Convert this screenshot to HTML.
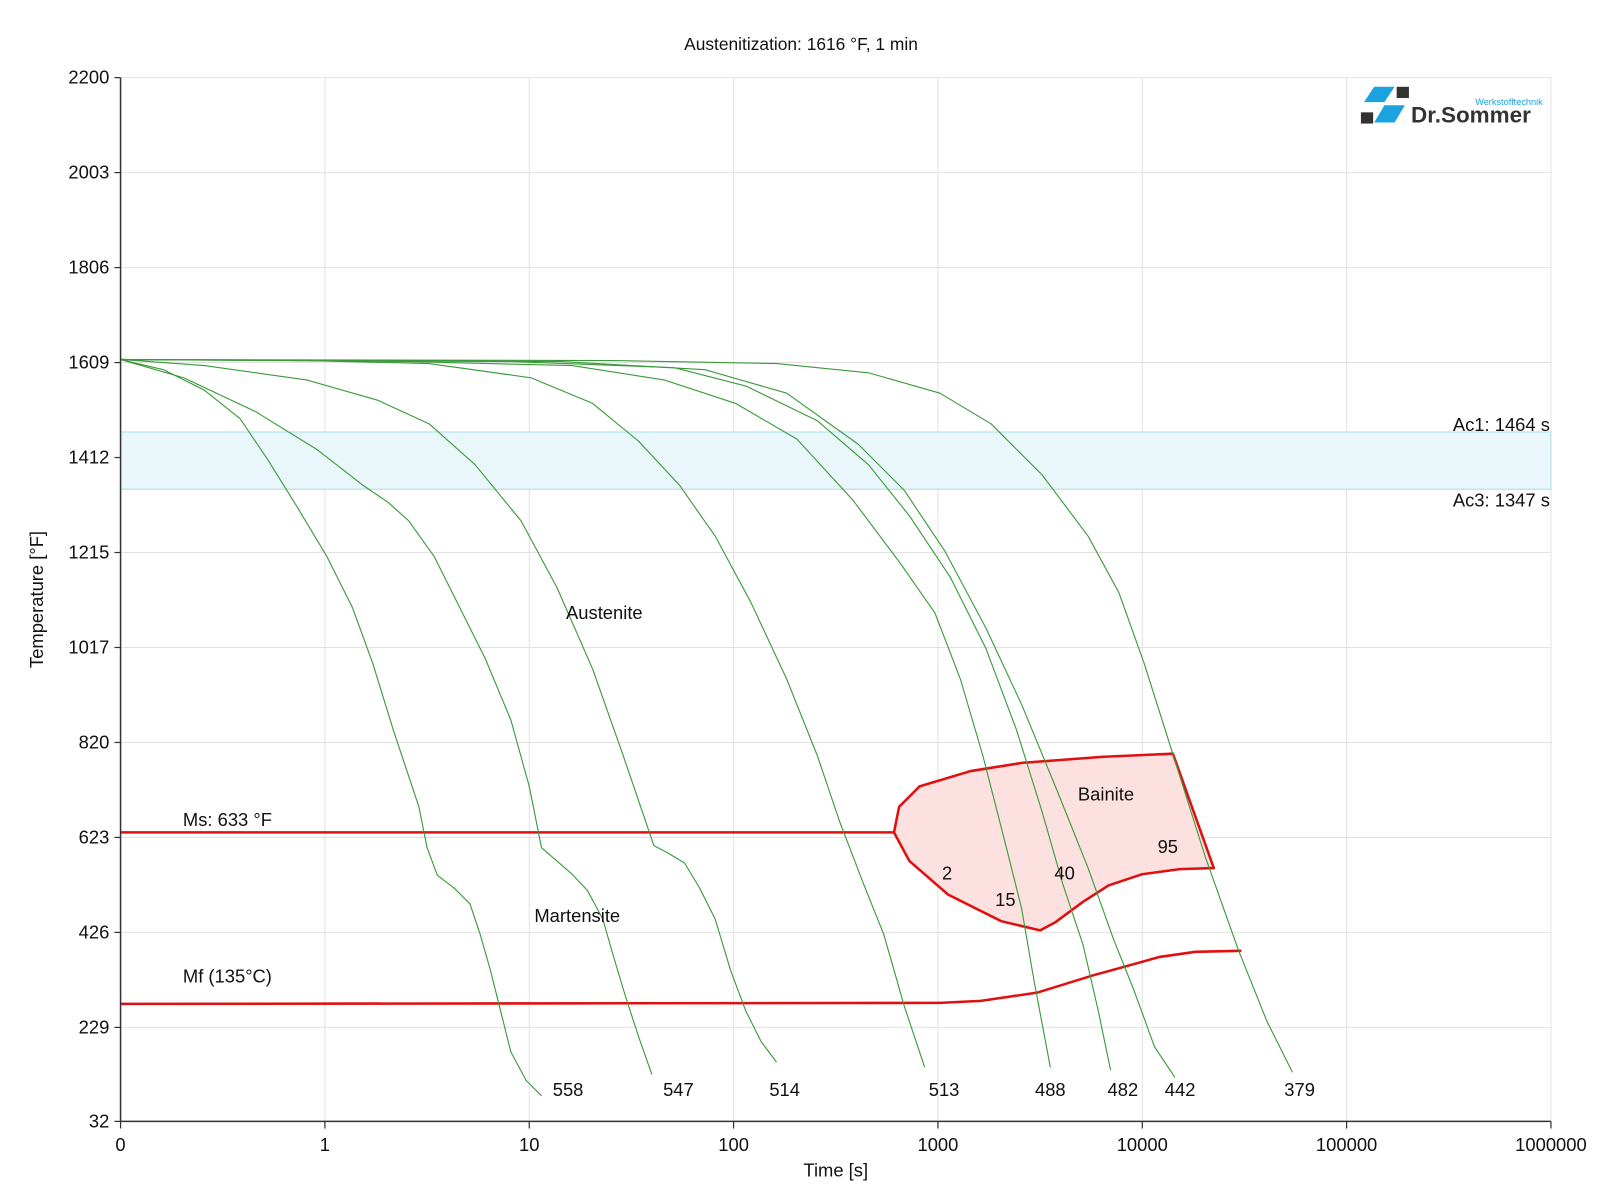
<!DOCTYPE html>
<html><head><meta charset="utf-8"><style>
html,body{margin:0;padding:0;background:#fff;}
svg{display:block;font-family:"Liberation Sans",sans-serif;}
</style></head><body>
<svg width="1600" height="1200" viewBox="0 0 1566 1175" preserveAspectRatio="none" xmlns="http://www.w3.org/2000/svg">
<rect width="1566" height="1175" fill="#fff"/>
<text x="784" y="49" font-size="17" text-anchor="middle" fill="#111">Austenitization: 1616 °F, 1 min</text>
<g stroke="#e2e2e2" stroke-width="1">
<line x1="318" y1="76" x2="318" y2="1098"/><line x1="518" y1="76" x2="518" y2="1098"/>
<line x1="718" y1="76" x2="718" y2="1098"/><line x1="918" y1="76" x2="918" y2="1098"/>
<line x1="1118" y1="76" x2="1118" y2="1098"/><line x1="1318" y1="76" x2="1318" y2="1098"/>
<line x1="1518" y1="76" x2="1518" y2="1098"/>
<line x1="118" y1="76" x2="1518" y2="76"/><line x1="118" y1="169" x2="1518" y2="169"/>
<line x1="118" y1="262" x2="1518" y2="262"/><line x1="118" y1="355" x2="1518" y2="355"/>
<line x1="118" y1="448" x2="1518" y2="448"/><line x1="118" y1="541" x2="1518" y2="541"/>
<line x1="118" y1="634" x2="1518" y2="634"/><line x1="118" y1="727" x2="1518" y2="727"/>
<line x1="118" y1="820" x2="1518" y2="820"/><line x1="118" y1="913" x2="1518" y2="913"/>
<line x1="118" y1="1006" x2="1518" y2="1006"/>
</g>
<rect x="118" y="423" width="1400" height="56" fill="#eaf7fa" stroke="#a8dce8" stroke-width="1"/>
<text x="1517" y="422" font-size="18" text-anchor="end" fill="#111">Ac1: 1464 s</text>
<text x="1517" y="496" font-size="18" text-anchor="end" fill="#111">Ac3: 1347 s</text>
<polygon points="875,815 880,790 900,770 950,755 1000,747 1080,741 1148,738 1188,850 1155,851 1118,856 1085,867 1060,883 1033,903 1018,911 980,902 928,876 890,843" fill="#fde0e0" stroke="#e01010" stroke-width="2.5" stroke-linejoin="round"/>
<line x1="118" y1="815" x2="875" y2="815" stroke="#e01010" stroke-width="2.5"/>
<polyline points="118,983 920,982 960,980 1015,972 1070,955 1135,937 1170,932 1215,931" fill="none" stroke="#e01010" stroke-width="2.5"/>
<g fill="none" stroke="#3a9a3a" stroke-width="1.1" stroke-linejoin="round">
<polyline points="118,352 160,362 200,382 235,410 262,450 290,495 320,545 345,595 365,650 385,715 410,790 418,830 428,857 445,870 460,885 470,915 480,950 490,990 500,1030 515,1058 530,1073"/>
<polyline points="118,352 180,370 250,403 310,440 355,475 380,492 400,510 425,545 450,595 475,645 500,705 518,770 530,830 545,843 560,856 575,872 590,900 600,935 612,975 625,1015 638,1052"/>
<polyline points="118,352 200,358 300,372 370,392 420,415 465,455 510,510 545,575 580,655 610,740 640,828 655,836 670,845 685,870 700,900 715,950 730,990 745,1020 760,1040"/>
<polyline points="118,352 300,353 420,356 520,370 580,395 625,432 665,475 700,525 735,590 770,665 800,740 822,805 845,865 865,915 885,985 905,1045"/>
<polyline points="118,352 400,354 560,358 650,372 720,395 780,430 835,490 880,550 915,600 940,665 962,740 985,830 1000,890 1012,960 1028,1045"/>
<polyline points="118,352 500,354 660,360 730,378 800,412 850,455 890,505 930,565 965,635 995,715 1020,795 1040,865 1060,925 1075,990 1087,1048"/>
<polyline points="118,352 550,354 690,362 770,385 840,435 885,480 925,540 965,615 1000,690 1035,775 1065,850 1090,920 1110,970 1130,1025 1150,1055"/>
<polyline points="118,352 600,353 760,356 850,365 920,385 970,415 1020,465 1065,525 1095,580 1120,650 1150,745 1180,840 1212,930 1240,1000 1265,1050"/>
</g>
<g stroke="#333" stroke-width="1.5" fill="none">
<line x1="118" y1="76" x2="118" y2="1098"/><line x1="118" y1="1098" x2="1518" y2="1098"/>
</g>
<g stroke="#333" stroke-width="1.2">
<line x1="112" y1="76" x2="118" y2="76"/><line x1="112" y1="169" x2="118" y2="169"/><line x1="112" y1="262" x2="118" y2="262"/><line x1="112" y1="355" x2="118" y2="355"/><line x1="112" y1="448" x2="118" y2="448"/><line x1="112" y1="541" x2="118" y2="541"/><line x1="112" y1="634" x2="118" y2="634"/><line x1="112" y1="727" x2="118" y2="727"/><line x1="112" y1="820" x2="118" y2="820"/><line x1="112" y1="913" x2="118" y2="913"/><line x1="112" y1="1006" x2="118" y2="1006"/><line x1="112" y1="1098" x2="118" y2="1098"/>
<line x1="118" y1="1098" x2="118" y2="1105"/><line x1="318" y1="1098" x2="318" y2="1105"/><line x1="518" y1="1098" x2="518" y2="1105"/><line x1="718" y1="1098" x2="718" y2="1105"/><line x1="918" y1="1098" x2="918" y2="1105"/><line x1="1118" y1="1098" x2="1118" y2="1105"/><line x1="1318" y1="1098" x2="1318" y2="1105"/><line x1="1518" y1="1098" x2="1518" y2="1105"/>
</g>
<g font-size="18" fill="#111" text-anchor="end">
<text x="107" y="82">2200</text><text x="107" y="175">2003</text><text x="107" y="268">1806</text><text x="107" y="361">1609</text><text x="107" y="454">1412</text><text x="107" y="547">1215</text><text x="107" y="640">1017</text><text x="107" y="733">820</text><text x="107" y="826">623</text><text x="107" y="919">426</text><text x="107" y="1012">229</text><text x="107" y="1104">32</text>
</g>
<g font-size="18" fill="#111" text-anchor="middle">
<text x="118" y="1127">0</text><text x="318" y="1127">1</text><text x="518" y="1127">10</text><text x="718" y="1127">100</text><text x="918" y="1127">1000</text><text x="1118" y="1127">10000</text><text x="1318" y="1127">100000</text><text x="1518" y="1127">1000000</text>
<text x="818" y="1152">Time [s]</text>
</g>
<text transform="translate(42,587) rotate(-90)" font-size="18" text-anchor="middle" fill="#111">Temperature [°F]</text>
<g font-size="18" fill="#111">
<text x="554" y="606">Austenite</text>
<text x="523" y="903">Martensite</text>
<text x="1055" y="784">Bainite</text>
<text x="179" y="809">Ms: 633 °F</text>
<text x="179" y="962">Mf (135°C)</text>
<text x="922" y="861">2</text><text x="974" y="887">15</text><text x="1032" y="861">40</text><text x="1133" y="835">95</text>
<text x="541" y="1073">558</text><text x="649" y="1073">547</text><text x="753" y="1073">514</text><text x="909" y="1073">513</text><text x="1013" y="1073">488</text><text x="1084" y="1073">482</text><text x="1140" y="1073">442</text><text x="1257" y="1073">379</text>
</g>
<g>
<polygon points="1345,85 1365,85 1355,100 1335,100" fill="#1aa3e0"/>
<polygon points="1355,103 1375,103 1365,120 1345,120" fill="#1aa3e0"/>
<rect x="1332" y="110" width="12" height="11" fill="#333"/>
<rect x="1367" y="85" width="12" height="11" fill="#333"/>
<text x="1381" y="120" font-size="22" font-weight="bold" fill="#333">Dr.Sommer</text>
<text x="1510" y="103" font-size="9" text-anchor="end" fill="#1aa3e0">Werkstofftechnik</text>
</g>
</svg>
</body></html>
